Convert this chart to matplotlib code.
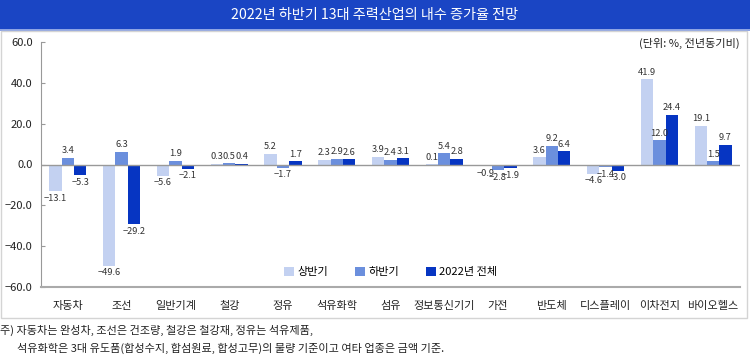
import numpy as np
import matplotlib
matplotlib.use("Agg")
import matplotlib.pyplot as plt
from matplotlib.patches import Rectangle

plt.rcParams['font.family'] = ['Noto Sans CJK KR', 'DejaVu Sans']

# data
categories = ['자동차', '조선', '일반기계', '철강', '정유', '석유화학', '섬유',
              '정보통신기기', '가전', '반도체', '디스플레이', '이차전지', '바이오헬스']
first_half = [-13.1, -49.6, -5.6, 0.3, 5.2, 2.3, 3.9, 0.1, -0.9, 3.6, -4.6, 41.9, 19.1]
second_half = [3.4, 6.3, 1.9, 0.5, -1.7, 2.9, 2.4, 5.4, -2.8, 9.2, -1.4, 12.0, 1.5]
full_year = [-5.3, -29.2, -2.1, 0.4, 1.7, 2.6, 3.1, 2.8, -1.9, 6.4, -3.0, 24.4, 9.7]
series_names = ['상반기', '하반기', '2022년 전체']
colors = ['#c3d1f1', '#6b8fdd', '#0635c2']

fig = plt.figure(figsize=(7.5, 3.55), dpi=100)

# title bar
fig.patches.append(Rectangle((0, 1 - 29 / 355), 1, 29 / 355, transform=fig.transFigure,
                             facecolor='#1a45c4', edgecolor='none', zorder=0))
fig.patches.append(Rectangle((0, 1 - 31 / 355), 1, 2 / 355, transform=fig.transFigure,
                             facecolor='#8ea4e4', edgecolor='none', zorder=0))
fig.text(0.5, 1 - 15 / 355, '2022년 하반기 13대 주력산업의 내수 증가율 전망',
         ha='center', va='center', color='white', fontsize=10.2)

# panel border
fig.patches.append(Rectangle((1 / 750, 1 - 318 / 355), 746 / 750, 287 / 355,
                             transform=fig.transFigure, facecolor='none',
                             edgecolor='#d4d4d4', lw=1, zorder=0))

ax = fig.add_axes([41 / 750, 68 / 355, 699 / 750, 245 / 355])
x = np.arange(len(categories))
w = 0.23
all_series = [first_half, second_half, full_year]
for i, (vals, name, c) in enumerate(zip(all_series, series_names, colors)):
    pos = x + (i - 1) * w
    ax.bar(pos, vals, width=w, color=c, label=name, zorder=2)
    for px, v in zip(pos, vals):
        txt = f'{v:.1f}'.replace('-', '−')
        if v >= 0:
            ax.text(px, v + 1.2, txt, ha='center', va='bottom', fontsize=6.7, color='#333333')
        else:
            ax.text(px, v - 1.2, txt, ha='center', va='top', fontsize=6.7, color='#333333')

ax.axhline(0, color='#999999', lw=1, zorder=3)
ax.set_ylim(-60, 60)
ax.set_xlim(-0.5, len(categories) - 0.5)
ax.set_yticks(np.arange(-60, 61, 20))
ax.set_yticklabels([f'{t:.1f}'.replace('-', '−') for t in np.arange(-60, 61, 20)])
ax.set_xticks(x)
ax.set_xticklabels(categories)
ax.tick_params(axis='y', direction='in', length=3, color='#999999', labelsize=8, pad=6,
               labelcolor='#222222')
ax.tick_params(axis='x', length=0, labelsize=8, pad=10, labelcolor='#222222')
for s in ['top', 'right']:
    ax.spines[s].set_visible(False)
ax.spines['left'].set_color('#999999')
ax.spines['bottom'].set_color('#aaaaaa')
ax.spines['bottom'].set_linewidth(1.5)

ax.legend(loc='lower center', bbox_to_anchor=(0.5, 0.0), ncol=3, frameon=False,
          fontsize=8, handlelength=0.9, handleheight=0.9, handletextpad=0.3,
          columnspacing=2.4)

fig.text(740 / 750, 1 - 43 / 355, '(단위: %, 전년동기비)', ha='right', va='center',
         fontsize=8, color='#222222')

fig.text(0, 1 - 330 / 355, '주) 자동차는 완성차, 조선은 건조량, 철강은 철강재, 정유는 석유제품,',
         ha='left', va='center', fontsize=8, color='#222222')
fig.text(17 / 750, 1 - 348 / 355,
         '석유화학은 3대 유도품(합성수지, 합섬원료, 합성고무)의 물량 기준이고 여타 업종은 금액 기준.',
         ha='left', va='center', fontsize=8, color='#222222')

fig.savefig('out.png', dpi=100)
